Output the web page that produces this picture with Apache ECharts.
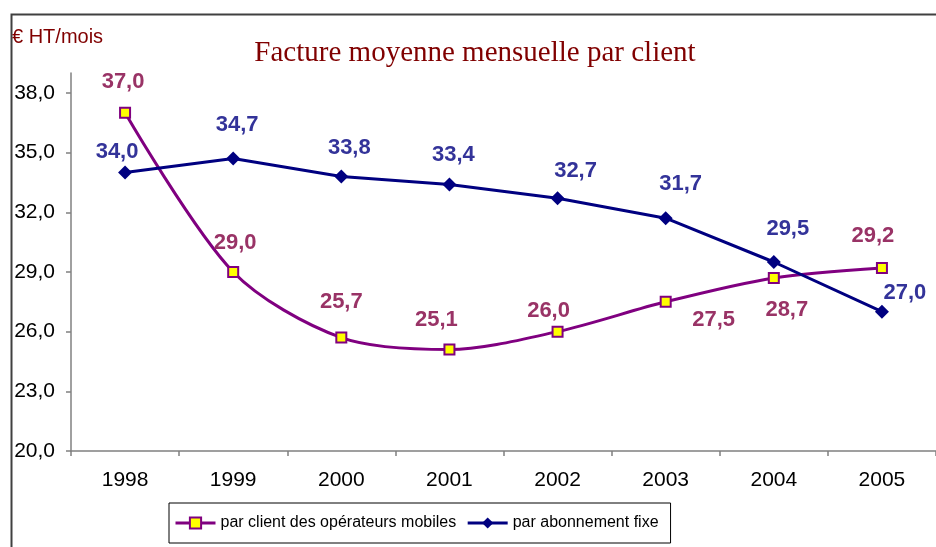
<!DOCTYPE html>
<html>
<head>
<meta charset="utf-8">
<script src="https://cdn.jsdelivr.net/npm/echarts@6/dist/echarts.min.js"></script>
<style>
  html, body { margin: 0; padding: 0; background: #fff; }
  #main { width: 936px; height: 547px; }
</style>
</head>
<body>
<div id="main"></div>
<script>
// données
var annees = ['1998', '1999', '2000', '2001', '2002', '2003', '2004', '2005'];
var mobiles = [37.0, 29.0, 25.7, 25.1, 26.0, 27.5, 28.7, 29.2];
var fixe = [34.0, 34.7, 33.8, 33.4, 32.7, 31.7, 29.5, 27.0];
var graduations = [20, 23, 26, 29, 32, 35, 38];

// décalages des étiquettes (placées à la main dans l'original)
var decalMobiles = [[-2, -1], [2, 1], [0, -6], [-13, 0], [-9, 9], [48, 0], [13, 0], [-9, -2]];
var decalFixe = [[-8, 10], [4, -3], [8, 2], [4, 2], [18, 4], [15, -3], [14, -2], [23, 12]];

var main = document.getElementById('main');
var chart = echarts.init(main);

function virgule(v) {
    return Number(v).toFixed(1).replace('.', ',');
}

// mobiles : étiquettes en dessous pour 2003 et 2004
var dataMobiles = mobiles.map(function (v, i) {
    var label = { offset: decalMobiles[i] };
    if (i === 5) {
        label.position = 'bottom';
        label.distance = 1;
    } else if (i === 6) {
        label.position = 'bottom';
        label.distance = 15;
    }
    return { value: v, label: label };
});

var dataFixe = fixe.map(function (v, i) {
    return { value: v, label: { offset: decalFixe[i] } };
});

var police = '"Liberation Sans", Arial, sans-serif';

var option = {
    animation: false,
    title: {
        text: 'Facture moyenne mensuelle par client',
        left: 470,
        textAlign: 'center',
        top: 34,
        textStyle: {
            fontFamily: '"Liberation Serif", "Times New Roman", serif',
            fontWeight: 'normal',
            fontSize: 29,
            color: '#800000'
        }
    },
    graphic: [
        {
            // cadre du graphique
            type: 'rect',
            left: 9,
            top: 12,
            shape: { width: 1000, height: 600 },
            style: { fill: null, stroke: '#404040', lineWidth: 2 },
            silent: true
        },
        {
            type: 'text',
            left: 12,
            top: 27,
            style: {
                text: '€ HT/mois',
                fill: '#800000',
                font: '20px "Liberation Sans", Arial, sans-serif'
            }
        }
    ],
    grid: {
        left: 71,
        right: -6,
        top: 73,
        bottom: 96
    },
    legend: {
        left: 169,
        top: 503,
        itemWidth: 40,
        itemHeight: 14,
        itemGap: 10,
        padding: [12, 12, 12, 5],
        borderColor: '#000',
        borderWidth: 1,
        lineStyle: { width: 3 },
        textStyle: {
            fontFamily: police,
            fontSize: 16,
            color: '#000'
        },
        data: ['par client des opérateurs mobiles', 'par abonnement fixe']
    },
    xAxis: {
        type: 'category',
        data: annees,
        boundaryGap: true,
        axisLine: { lineStyle: { color: '#808080', width: 1.5 } },
        axisTick: { show: true, length: 5, lineStyle: { color: '#808080', width: 1.5 } },
        axisLabel: {
            margin: 19,
            fontFamily: police,
            fontSize: 21,
            color: '#000'
        },
        splitLine: { show: false }
    },
    yAxis: {
        type: 'value',
        min: 20,
        max: 39,
        axisLine: { show: true, lineStyle: { color: '#808080', width: 1.5 } },
        axisTick: {
            show: true,
            length: 5,
            customValues: graduations,
            lineStyle: { color: '#808080', width: 1.5 }
        },
        axisLabel: {
            margin: 16,
            customValues: graduations,
            formatter: virgule,
            fontFamily: police,
            fontSize: 21,
            color: '#000'
        },
        splitLine: { show: false }
    },
    series: [
        {
            name: 'par client des opérateurs mobiles',
            type: 'line',
            smooth: 0.3,
            data: dataMobiles,
            symbol: 'rect',
            symbolSize: 10,
            lineStyle: { color: '#800080', width: 3 },
            itemStyle: { color: '#ffff00', borderColor: '#800080', borderWidth: 2 },
            label: {
                show: true,
                position: 'top',
                distance: 13,
                formatter: function (p) { return virgule(p.value); },
                fontFamily: police,
                fontWeight: 'bold',
                fontSize: 22,
                color: '#993366'
            },
            z: 3
        },
        {
            name: 'par abonnement fixe',
            type: 'line',
            data: dataFixe,
            symbol: 'diamond',
            symbolSize: 14,
            lineStyle: { color: '#000080', width: 3 },
            itemStyle: { color: '#000080', borderColor: '#000080', borderWidth: 0 },
            label: {
                show: true,
                position: 'top',
                distance: 13,
                formatter: function (p) { return virgule(p.value); },
                fontFamily: police,
                fontWeight: 'bold',
                fontSize: 22,
                color: '#333399'
            },
            z: 4
        }
    ]
};

chart.setOption(option);
</script>
</body>
</html>
